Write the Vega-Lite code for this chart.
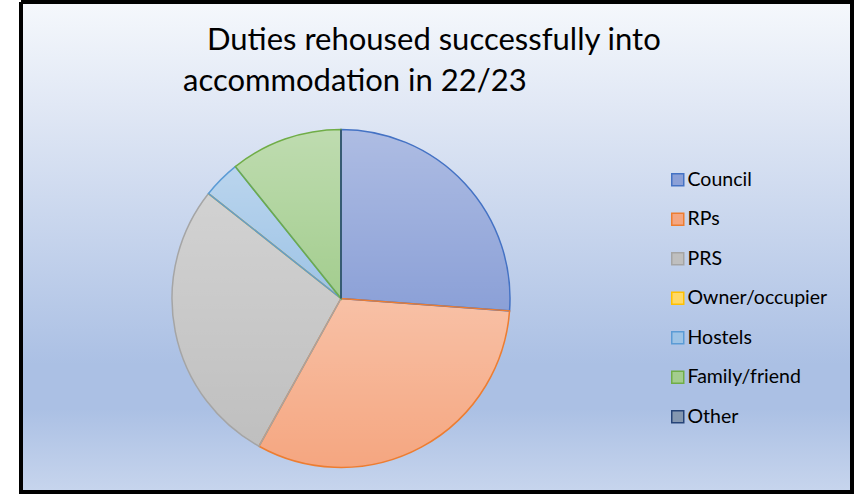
{
  "$schema": "https://vega.github.io/schema/vega-lite/v6.json",
  "background": "white",
  "padding": {"left": 19, "top": 0, "right": 4, "bottom": 0},
  "spacing": 0,
  "bounds": "flush",
  "title": {
    "text": "Duties rehoused successfully into",
    "anchor": "start",
    "frame": "group",
    "dx": 186,
    "offset": -57,
    "font": "Lato",
    "fontSize": 31,
    "fontWeight": "normal",
    "color": "#000000"
  },
  "datasets": {
    "d": [
      {"category": "Council", "count": 73},
      {"category": "RPs", "count": 89},
      {"category": "PRS", "count": 77},
      {"category": "Owner/occupier", "count": 0},
      {"category": "Hostels", "count": 10},
      {"category": "Family/friend", "count": 30},
      {"category": "Other", "count": 0}
    ]
  },
  "vconcat": [
    {
      "width": 831,
      "height": 103,
      "title": {
        "text": "accommodation in 22/23",
        "anchor": "start",
        "frame": "group",
        "dx": 162,
        "offset": -96,
        "font": "Lato",
        "fontSize": 31,
        "fontWeight": "normal",
        "color": "#000000"
      },
      "data": {"values": []},
      "mark": "point",
      "view": {
        "fill": {"gradient": "linear", "x1": 0, "y1": 0, "x2": 0, "y2": 1,
          "stops": [{"offset": 0, "color": "#f5f8fc"}, {"offset": 1, "color": "#e1e8f5"}]},
        "stroke": "#000000",
        "strokeWidth": 4,
        "strokeDash": [934, 831, 103, 0]
      }
    },
    {
      "spacing": 0,
      "bounds": "flush",
      "hconcat": [
        {
          "width": 640,
          "height": 387,
          "data": {"name": "d"},
          "transform": [{"window": [{"op": "row_number", "as": "rank"}]}],
          "view": {
            "fill": {"gradient": "linear", "x1": 0, "y1": 0, "x2": 0, "y2": 1,
              "stops": [{"offset": 0, "color": "#e1e8f5"}, {"offset": 0.67, "color": "#abc0e4"}, {"offset": 0.785, "color": "#abc0e4"}, {"offset": 1, "color": "#c7d5ed"}]},
            "stroke": "#000000",
            "strokeWidth": 4,
            "strokeDash": [0, 1027, 1027, 0]
          },
          "layer": [
            {
              "mark": {"type": "arc", "outerRadius": 169, "strokeWidth": 0},
              "encoding": {
                "theta": {"field": "count", "type": "quantitative", "stack": true},
                "order": {"field": "rank", "type": "quantitative"},
                "color": {
                  "field": "category", "type": "nominal", "title": null,
                  "sort": ["Council", "RPs", "PRS", "Owner/occupier", "Hostels", "Family/friend", "Other"],
                  "scale": {
                    "domain": ["Council", "RPs", "PRS", "Owner/occupier", "Hostels", "Family/friend", "Other"],
                    "range": ["#8ba0d7", "#f5a680", "#bfbfbf", "#ffd966", "#9dc3e6", "#a3cd8e", "#8497b0"]
                  }
                }
              }
            },
            {
              "mark": {"type": "arc", "outerRadius": 169,
                "fill": {"gradient": "linear", "x1": 0, "y1": 0, "x2": 0, "y2": 1,
                  "stops": [{"offset": 0, "color": "rgba(255,255,255,0.3)"}, {"offset": 1, "color": "rgba(255,255,255,0)"}]}},
              "encoding": {
                "theta": {"field": "count", "type": "quantitative", "stack": true},
                "order": {"field": "rank", "type": "quantitative"}
              }
            },
            {
              "mark": {"type": "arc", "outerRadius": 169, "fill": null, "strokeWidth": 1.5},
              "encoding": {
                "theta": {"field": "count", "type": "quantitative", "stack": true},
                "order": {"field": "rank", "type": "quantitative"},
                "stroke": {
                  "field": "category", "type": "nominal", "title": null,
                  "sort": ["Council", "RPs", "PRS", "Owner/occupier", "Hostels", "Family/friend", "Other"],
                  "scale": {
                    "domain": ["Council", "RPs", "PRS", "Owner/occupier", "Hostels", "Family/friend", "Other"],
                    "range": ["#4472c4", "#ed7d31", "#a5a5a5", "#ffc000", "#5b9bd5", "#70ad47", "#264478"]
                  }
                }
              }
            }
          ]
        },
        {
          "width": 191,
          "height": 387,
          "data": {"values": []},
          "mark": "point",
          "view": {
            "fill": {"gradient": "linear", "x1": 0, "y1": 0, "x2": 0, "y2": 1,
              "stops": [{"offset": 0, "color": "#e1e8f5"}, {"offset": 0.67, "color": "#abc0e4"}, {"offset": 0.785, "color": "#abc0e4"}, {"offset": 1, "color": "#c7d5ed"}]},
            "stroke": "#000000",
            "strokeWidth": 4,
            "strokeDash": [0, 191, 578, 387]
          }
        }
      ]
    }
  ],
  "config": {
    "font": "Lato",
    "legend": {
      "orient": "none",
      "legendX": 647,
      "legendY": 168,
      "symbolType": "square",
      "symbolSize": 144,
      "symbolStrokeWidth": 1.5,
      "labelFont": "Lato",
      "labelFontSize": 19.5,
      "labelColor": "#000000",
      "rowPadding": 18.5,
      "labelOffset": 0,
      "padding": 0
    }
  }
}
